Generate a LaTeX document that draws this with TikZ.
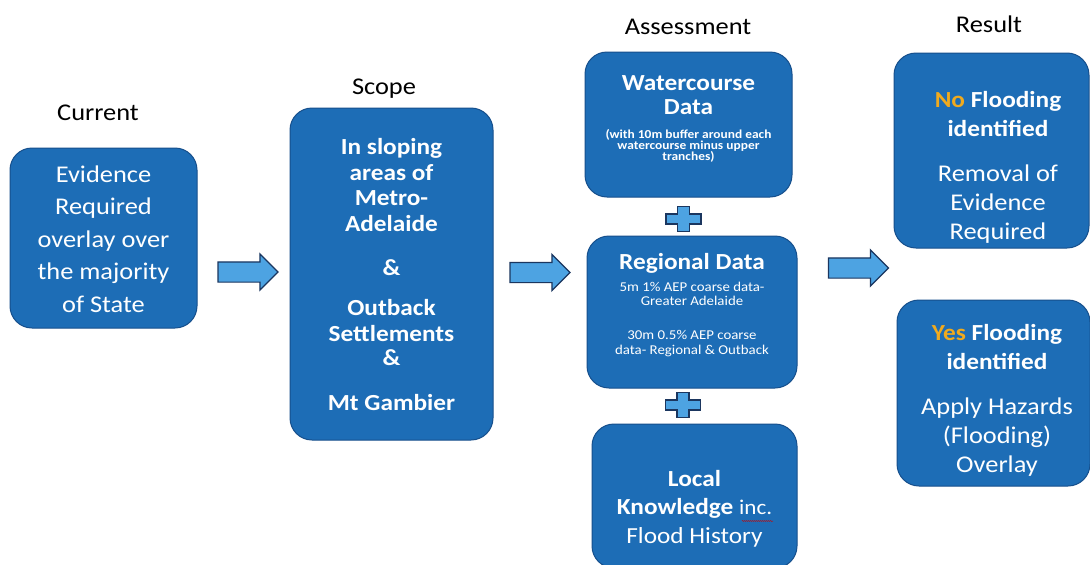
\documentclass[tikz,border=0pt]{standalone}
\usepackage{fontspec}
\setmainfont{Carlito}[FakeStretch=1.1]
\usetikzlibrary{shapes.arrows,decorations.pathmorphing}
\definecolor{boxblue}{HTML}{1D6DB6}
\definecolor{boxedge}{HTML}{164F8C}
\definecolor{arrowfill}{HTML}{4DA3E2}
\definecolor{arrowedge}{HTML}{1B365F}
\definecolor{yesno}{HTML}{F0AA1E}
\begin{document}
\begin{tikzpicture}[x=1pt,y=-1pt,
  bluebox/.style={draw=boxedge, line width=1pt, fill=boxblue, rounded corners=22pt, inner sep=0pt},
  boxtext/.style={text=white, align=center, inner sep=0pt},
  heading/.style={font=\fontsize{24}{28}\selectfont, text=black, inner sep=0pt},
  blockarrow/.style={single arrow, draw=arrowedge, line width=1.2pt, fill=arrowfill,
    minimum height=60pt, minimum width=35pt, single arrow head extend=8pt, inner sep=9.5pt,
    single arrow tip angle=90},
  plussign/.pic={\draw[draw=arrowedge, line width=1.2pt, fill=arrowfill]
    (-17.5,-5) -- (-6,-5) -- (-6,-12.5) -- (6,-12.5) -- (6,-5) -- (17.5,-5) -- (17.5,5)
    -- (6,5) -- (6,12.5) -- (-6,12.5) -- (-6,5) -- (-17.5,5) -- cycle;}
]
\clip (0,0) rectangle (1090,565);
\fill[white] (0,0) rectangle (1090,565);

% headings
\node[heading] (hcur) at (98,113) {Current};
\node[heading] (hscope) at (384,89) {Scope};
\node[heading] (hass) at (688,27) {Assessment};
\node[heading] (hres) at (989,24) {Result};

% boxes
\node[bluebox, minimum width=187pt, minimum height=180pt] (cur) at (103.5,238) {};
\node[bluebox, minimum width=203pt, minimum height=332pt] (scope) at (391.5,274) {};
\node[bluebox, minimum width=207pt, minimum height=145pt] (water) at (688.5,124.5) {};
\node[bluebox, minimum width=210pt, minimum height=152pt] (regional) at (692,312) {};
\node[bluebox, minimum width=205pt, minimum height=144pt] (local) at (694.5,496) {};
\node[bluebox, minimum width=195pt, minimum height=195pt] (nobox) at (991.5,150.5) {};
\node[bluebox, minimum width=193pt, minimum height=186pt] (yesbox) at (993.5,393) {};

% texts
\node[boxtext, font=\fontsize{24}{32.5}\selectfont] (curtxt) at (103.5,239)
  {Evidence\\Required\\overlay over\\the majority\\of State};
\node[boxtext, font=\fontsize{23}{25.7}\selectfont\bfseries] (scopetxt) at (391.5,274.5)
  {In sloping\\areas of\\Metro-\\Adelaide\\[18.3pt]\&\\[14.3pt]Outback\\Settlements\\[-1.7pt]\&\\[19.3pt]Mt Gambier};
\node[boxtext, font=\fontsize{23}{24}\selectfont\bfseries] (watert) at (688.5,95) {Watercourse\\Data};
\node[boxtext, font=\fontsize{12.2}{11}\selectfont\bfseries] (waters) at (688.5,146)
  {(with 10m buffer around each\\watercourse minus upper\\tranches)};
\node[boxtext, font=\fontsize{23}{26}\selectfont\bfseries] (regt) at (692,263) {Regional Data};
\node[boxtext, font=\fontsize{13.5}{14.5}\selectfont] (regs) at (692,319)
  {5m 1\% AEP coarse data-\\Greater Adelaide\\[19.5pt]30m 0.5\% AEP coarse\\data- Regional \& Outback};
\node[boxtext, font=\fontsize{23}{28.5}\selectfont] (localt) at (694.5,508.5)
  {\textbf{Local}\\\textbf{Knowledge} {\fontsize{21}{21}\selectfont inc.}\\Flood History};
\node[boxtext, font=\fontsize{23}{29}\selectfont\bfseries] (not) at (998,114.5)
  {{\color{yesno}No} Flooding\\identified};
\node[boxtext, font=\fontsize{24}{29}\selectfont] (nos) at (998,204)
  {Removal of\\Evidence\\Required};
\node[boxtext, font=\fontsize{23}{29}\selectfont\bfseries] (yest) at (997,347.5)
  {{\color{yesno}Yes} Flooding\\identified};
\node[boxtext, font=\fontsize{24}{29}\selectfont] (yess) at (997,437)
  {Apply Hazards\\(Flooding)\\Overlay};

% spelling underline
\draw[red!80!black, line width=0.5pt, decorate, decoration={snake, amplitude=0.5pt, segment length=2pt}]
  (742,521) -- (773,521);

% block arrows
\node[blockarrow] (a1) at (243,272) {};
\node[blockarrow] (a2) at (535,272.5) {};
\node[blockarrow] (a3) at (853.5,268) {};

% plus signs
\pic (p1) at (683.5,219) {plussign};
\pic (p2) at (683,405) {plussign};
\end{tikzpicture}
\end{document}
